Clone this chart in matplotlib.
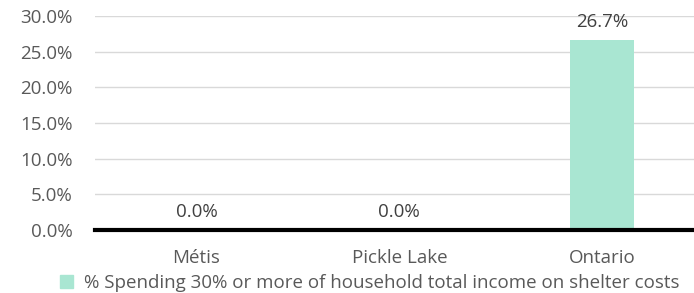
import matplotlib.pyplot as plt
from matplotlib.patches import Patch

categories = ["Métis", "Pickle Lake", "Ontario"]
values = [0.0, 0.0, 26.7]
series_name = "% Spending 30% or more of household total income on shelter costs"
yticks = [0, 5, 10, 15, 20, 25, 30]

bar_color = "#a9e6d2"
text_color = "#595959"
plt.rcParams["font.family"] = ["Open Sans", "DejaVu Sans"]

fig = plt.figure(figsize=(6.94, 2.93), dpi=100)
ax = fig.add_axes([95 / 694, 63 / 293, 1 - 95 / 694, 214 / 293])

x = range(len(categories))
ax.bar(x, values, width=0.315, color=bar_color, zorder=2)
for xi, v in zip(x, values):
    ax.text(xi, v + 1.2, f"{v:.1f}%", ha="center", va="bottom",
            fontsize=13.5, color="#404040")

ax.set_ylim(0, 30)
ax.set_xlim(-0.5, 2.452)
ax.set_yticks(yticks)
ax.set_yticklabels([f"{t:.1f}%" for t in yticks])
ax.set_xticks(list(x))
ax.set_xticklabels(categories)
ax.tick_params(axis="y", length=0, pad=16, labelsize=13.5, labelcolor=text_color)
ax.tick_params(axis="x", length=0, pad=14, labelsize=13.5, labelcolor=text_color)
ax.yaxis.grid(True, color="#d9d9d9", linewidth=1)
ax.set_axisbelow(True)
for s in ["top", "right", "left"]:
    ax.spines[s].set_visible(False)
ax.spines["bottom"].set_linewidth(3)
ax.spines["bottom"].set_color("black")
ax.spines["bottom"].set_zorder(3)

fig.legend(handles=[Patch(color=bar_color, label=series_name)],
           loc="center", bbox_to_anchor=(370 / 694, 1 - 283 / 293),
           frameon=False, fontsize=13.5, handlelength=0.7, handleheight=0.7,
           handletextpad=0.6, labelcolor=text_color)

fig.savefig("out.png", dpi=100)
